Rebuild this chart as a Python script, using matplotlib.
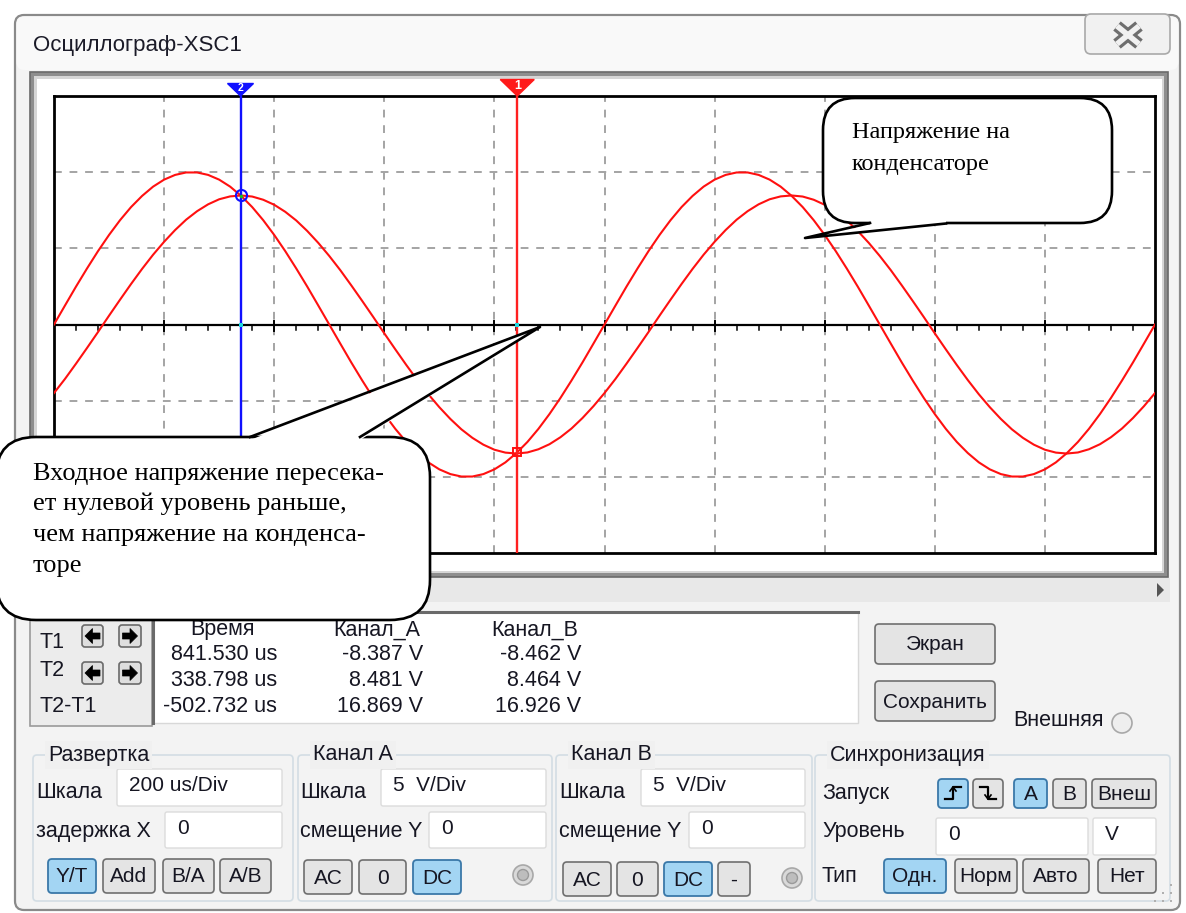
import matplotlib
matplotlib.use('Agg')
import matplotlib.pyplot as plt
from matplotlib.patches import FancyBboxPatch, Polygon, Circle, Rectangle

time_us = [0, 20, 40, 60, 80, 100, 120, 140, 160, 180, 200, 220, 240, 260, 280, 300,
           320, 340, 360, 380, 400, 420, 440, 460, 480, 500, 520, 540, 560, 580, 600,
           620, 640, 660, 680, 700, 720, 740, 760, 780, 800, 820, 840, 860, 880, 900,
           920, 940, 960, 980, 1000, 1020, 1040, 1060, 1080, 1100, 1120, 1140, 1160,
           1180, 1200, 1220, 1240, 1260, 1280, 1300, 1320, 1340, 1360, 1380, 1400,
           1420, 1440, 1460, 1480, 1500, 1520, 1540, 1560, 1580, 1600, 1620, 1640,
           1660, 1680, 1700, 1720, 1740, 1760, 1780, 1800, 1820, 1840, 1860, 1880,
           1900, 1920, 1940, 1960, 1980, 2000]
# channel A: input voltage, V
channel_a = [0.00, 1.25, 2.49, 3.68, 4.82, 5.88, 6.85, 7.71, 8.44, 9.05, 9.51, 9.82,
             9.98, 9.98, 9.82, 9.51, 9.05, 8.44, 7.71, 6.85, 5.88, 4.82, 3.68, 2.49,
             1.25, 0.00, -1.25, -2.49, -3.68, -4.82, -5.88, -6.85, -7.71, -8.44, -9.05,
             -9.51, -9.82, -9.98, -9.98, -9.82, -9.51, -9.05, -8.44, -7.71, -6.85,
             -5.88, -4.82, -3.68, -2.49, -1.25,
             0.00, 1.25, 2.49, 3.68, 4.82, 5.88, 6.85, 7.71, 8.44, 9.05, 9.51, 9.82,
             9.98, 9.98, 9.82, 9.51, 9.05, 8.44, 7.71, 6.85, 5.88, 4.82, 3.68, 2.49,
             1.25, 0.00, -1.25, -2.49, -3.68, -4.82, -5.88, -6.85, -7.71, -8.44, -9.05,
             -9.51, -9.82, -9.98, -9.98, -9.82, -9.51, -9.05, -8.44, -7.71, -6.85,
             -5.88, -4.82, -3.68, -2.49, -1.25, 0.00]
# channel B: capacitor voltage, V
channel_b = [-4.50, -3.57, -2.57, -1.54, -0.49, 0.58, 1.63, 2.66, 3.65, 4.58, 5.43,
             6.20, 6.88, 7.44, 7.89, 8.22, 8.41, 8.47, 8.40, 8.19, 7.86, 7.40, 6.83,
             6.14, 5.36, 4.50, 3.57, 2.57, 1.54, 0.49, -0.58, -1.63, -2.66, -3.65,
             -4.58, -5.43, -6.20, -6.88, -7.44, -7.89, -8.22, -8.41, -8.47, -8.40,
             -8.19, -7.86, -7.40, -6.83, -6.14, -5.36,
             -4.50, -3.57, -2.57, -1.54, -0.49, 0.58, 1.63, 2.66, 3.65, 4.58, 5.43,
             6.20, 6.88, 7.44, 7.89, 8.22, 8.41, 8.47, 8.40, 8.19, 7.86, 7.40, 6.83,
             6.14, 5.36, 4.50, 3.57, 2.57, 1.54, 0.49, -0.58, -1.63, -2.66, -3.65,
             -4.58, -5.43, -6.20, -6.88, -7.44, -7.89, -8.22, -8.41, -8.47, -8.40,
             -8.19, -7.86, -7.40, -6.83, -6.14, -5.36, -4.50]
cursor_time = [841.530, 338.798]          # T1, T2 (us)
cursor_a = [-8.387, 8.481]                # V
cursor_b = [-8.462, 8.464]                # V
readout_rows = ["T1", "T2", "T2-T1"]
readout_time = ["841.530 us", "338.798 us", "-502.732 us"]
readout_a = ["-8.387 V", "8.481 V", "16.869 V"]
readout_b = ["-8.462 V", "8.464 V", "16.926 V"]
time_per_div = 200      # us/div
volt_per_div = 5        # V/div
n_xdiv, n_ydiv = 10, 6

# ---------------- figure ----------------
W, H = 1186, 913
fig = plt.figure(figsize=(W / 100, H / 100), dpi=100)
fig.patch.set_facecolor('white')

ui = fig.add_axes([0, 0, 1, 1], zorder=0)
ui.set_xlim(0, W); ui.set_ylim(H, 0); ui.axis('off')

UIF = ['Liberation Sans', 'DejaVu Sans']
SERIF = ['Liberation Serif', 'DejaVu Serif']
TXT = '#161622'


def rbox(ax, x0, y0, x1, y1, fc='white', ec='none', lw=1.0, r=4, z=2):
    p = FancyBboxPatch((x0, y0), x1 - x0, y1 - y0,
                       boxstyle=f"round,pad=0,rounding_size={r}",
                       fc=fc, ec=ec, lw=lw, zorder=z)
    ax.add_patch(p)
    return p


def txt(ax, x, y, s, size=15.5, ha='left', va='center', color=TXT, z=6, **kw):
    ax.text(x, y, s, fontsize=size, ha=ha, va=va, color=color, family=UIF,
            zorder=z, **kw)


def button(x0, y0, x1, y1, label, sel=False, size=15):
    if sel:
        rbox(ui, x0, y0, x1, y1, fc='#a3d5f3', ec='#3a78a8', lw=1.3, r=4, z=3)
    else:
        rbox(ui, x0, y0, x1, y1, fc='#e4e4e4', ec='#6f6f6f', lw=1.2, r=4, z=3)
    if label:
        txt(ui, (x0 + x1) / 2, (y0 + y1) / 2 + 1, label, size=size, ha='center')


def textbox(x0, y0, x1, y1, s):
    rbox(ui, x0, y0, x1, y1, fc='white', ec='#dcdcdc', lw=1.0, r=2, z=3)
    txt(ui, x0 + 12, (y0 + y1) / 2 - 2, s, size=15)


def arrow_btn(x0, y0, x1, y1, direction):
    rbox(ui, x0, y0, x1, y1, fc='#dedede', ec='#6a6a6a', lw=1.2, r=3, z=3)
    cx, cy = (x0 + x1) / 2, (y0 + y1) / 2
    s = direction
    pts = [(cx + 7.5 * s, cy), (cx, cy - 7.5), (cx, cy - 3), (cx - 7.5 * s, cy - 3),
           (cx - 7.5 * s, cy + 3), (cx, cy + 3), (cx, cy + 7.5)]
    ui.add_patch(Polygon(pts, closed=True, fc='black', ec='black', lw=0.5, zorder=4))


def radio(cx, cy, r=10, dark=True):
    ui.add_patch(Circle((cx, cy), r, fc='#d9d9d9' if dark else '#eeeeee',
                        ec='#a8a8a8', lw=1.2, zorder=3))
    if dark:
        ui.add_patch(Circle((cx, cy), r * 0.55, fc='#bdbdbd', ec='#9a9a9a', lw=1.0, zorder=4))


def group(x0, y0, x1, y1, label):
    rbox(ui, x0, y0, x1, y1, fc='none', ec='#d3dde4', lw=1.2, r=4, z=2)
    ui.text(x0 + 15, y0, label, fontsize=15.5, ha='left', va='center', color=TXT,
            family=UIF, zorder=6,
            bbox=dict(boxstyle='square,pad=0.15', fc='#f0f0f0', ec='none'))


# window
rbox(ui, 15, 15, 1180, 910, fc='#f3f3f3', ec='#8a8a8a', lw=1.6, r=9, z=1)
rbox(ui, 16.5, 16.5, 1178.5, 70, fc='#f9f9f9', ec='none', r=8, z=1)
txt(ui, 33, 45, "Осциллограф-XSC1", size=16, color='#1b1b28')
# close button
rbox(ui, 1085, 14, 1170, 54, fc='#f1f1f1', ec='#a9a9a9', lw=1.2, r=6, z=2)
for lw_, col in ((8.5, '#6e6e6e'), (4.0, '#f1f1f1')):
    ui.plot([1117, 1139], [26, 44], color=col, lw=lw_, zorder=3, solid_capstyle='butt')
    ui.plot([1117, 1139], [44, 26], color=col, lw=lw_, zorder=3, solid_capstyle='butt')

# screen frame
ui.add_patch(Rectangle((30, 72), 1138, 505, fc='#8e8e8e', ec='#6a6a6a', lw=1.2, zorder=2))
ui.add_patch(Rectangle((34, 76), 1130, 497, fc='#d6d6d6', ec='none', zorder=2))
ui.add_patch(Rectangle((37, 79), 1125, 492, fc='white', ec='none', zorder=2))
# scroll strip
ui.add_patch(Rectangle((30, 578), 1140, 24, fc='#e8e8e8', ec='none', zorder=2))
ui.add_patch(Polygon([(1157, 583), (1157, 597), (1164, 590)], closed=True,
                     fc='#555555', ec='none', zorder=3))

# readout area
ui.add_patch(Rectangle((30, 606), 122, 120, fc='#ececec', ec='#9a9a9a', lw=1.2, zorder=2))
ui.add_patch(Rectangle((153, 612), 705, 111, fc='white', ec='#d8d8d8', lw=1.0, zorder=2))
ui.plot([153, 858], [612, 612], color='#6a6a6a', lw=2.2, zorder=3)
ui.plot([153, 153], [612, 723], color='#6a6a6a', lw=2.2, zorder=3)
for i, (lab, yy) in enumerate(zip(readout_rows, [642, 670, 707])):
    txt(ui, 40, yy, lab, size=15.5)
for yy in (625, 662):
    arrow_btn(82, yy, 103, yy + 22, -1)
    arrow_btn(119, yy, 141, yy + 22, 1)
txt(ui, 222, 630, "Время", ha='center')
txt(ui, 377, 630, "Канал_A", ha='center')
txt(ui, 535, 630, "Канал_B", ha='center')
for i, yy in enumerate([655, 681, 706]):
    txt(ui, 277, yy, readout_time[i], ha='right')
    txt(ui, 423, yy, readout_a[i], ha='right')
    txt(ui, 581, yy, readout_b[i], ha='right')

button(875, 624, 995, 664, "Экран")
button(875, 681, 995, 721, "Сохранить")
txt(ui, 1013, 721, "Внешняя", size=15.5)
radio(1122, 723, r=10, dark=False)

# group boxes
group(33, 755, 293, 901, "Развертка")
txt(ui, 36, 793, "Шкала"); textbox(117, 769, 282, 806, "200 us/Div")
txt(ui, 36, 832, "задержка X"); textbox(165, 812, 282, 848, "0")
button(48, 859, 96, 893, "Y/T", sel=True)
button(103, 859, 155, 893, "Add")
button(163, 859, 214, 893, "B/A")
button(220, 859, 271, 893, "A/B")

group(298, 755, 552, 901, "Канал A")
txt(ui, 300, 793, "Шкала"); textbox(381, 769, 546, 806, "5  V/Div")
txt(ui, 300, 832, "смещение Y"); textbox(429, 812, 546, 848, "0")
button(304, 860, 352, 894, "AC")
button(359, 860, 406, 894, "0")
button(413, 860, 461, 894, "DC", sel=True)
radio(523, 875)

group(556, 755, 812, 901, "Канал B")
txt(ui, 559, 793, "Шкала"); textbox(641, 769, 805, 806, "5  V/Div")
txt(ui, 559, 832, "смещение Y"); textbox(689, 812, 805, 848, "0")
button(563, 862, 611, 896, "AC")
button(617, 862, 658, 896, "0")
button(664, 862, 712, 896, "DC", sel=True)
button(718, 862, 750, 896, "-")
radio(792, 878)

group(815, 755, 1170, 901, "Синхронизация")
txt(ui, 822, 793, "Запуск")
button(938, 779, 968, 808, "", sel=True)
ui.plot([945, 953, 953, 961], [799, 799, 787, 787], color='black', lw=1.6, zorder=5)
ui.plot([950, 953, 956], [791, 787, 791], color='black', lw=1.2, zorder=5)
button(973, 779, 1003, 808, "")
ui.plot([980, 988, 988, 996], [787, 787, 799, 799], color='black', lw=1.6, zorder=5)
ui.plot([985, 988, 991], [795, 799, 795], color='black', lw=1.2, zorder=5)
button(1014, 779, 1047, 808, "A", sel=True)
button(1053, 779, 1086, 808, "B")
button(1092, 779, 1156, 808, "Внеш")
txt(ui, 822, 832, "Уровень")
textbox(936, 818, 1088, 855, "0")
textbox(1093, 818, 1156, 855, "V")
txt(ui, 822, 877, "Тип")
button(884, 859, 946, 893, "Одн.", sel=True)
button(955, 859, 1017, 893, "Норм")
button(1023, 859, 1089, 893, "Авто")
button(1098, 859, 1156, 893, "Нет")
for (gx, gy) in [(1170, 884), (1170, 892), (1162, 892), (1170, 900), (1162, 900), (1154, 900)]:
    ui.add_patch(Rectangle((gx, gy), 2, 2, fc='#b0b0b0', ec='none', zorder=3))

# ---------------- oscilloscope screen ----------------
x_max = time_per_div * n_xdiv
y_half = volt_per_div * n_ydiv / 2
sc = fig.add_axes([54 / W, 1 - 553 / H, 1101 / W, 457 / H], zorder=1)
sc.set_xlim(0, x_max); sc.set_ylim(-y_half, y_half)
sc.set_xticks([]); sc.set_yticks([])
sc.set_facecolor('white')
for sp in sc.spines.values():
    sp.set_color('black'); sp.set_linewidth(2.0)

for i in range(1, n_xdiv):
    sc.axvline(i * time_per_div, color='#a4a4a4', lw=1.4, ls=(0, (4, 4)), zorder=1)
for j in range(1, n_ydiv):
    yv = -y_half + j * volt_per_div
    if abs(yv) > 1e-9:
        sc.axhline(yv, color='#a4a4a4', lw=1.4, ls=(0, (4, 4)), zorder=1)
sc.axhline(0, color='black', lw=1.6, zorder=2)
for k in range(0, n_xdiv * 5 + 1):
    tk = k * time_per_div / 5
    if k % 5 == 0:
        sc.plot([tk, tk], [-0.45, 0.2], color='black', lw=1.4, zorder=2)
    else:
        sc.plot([tk, tk], [-0.35, 0.0], color='black', lw=1.1, zorder=2)

sc.plot(time_us, channel_a, color='#ff1010', lw=1.5, zorder=3)
sc.plot(time_us, channel_b, color='#ff1010', lw=1.5, zorder=3)

# cursors
sc.axvline(cursor_time[0], color='#ff2020', lw=1.7, zorder=4)
sc.axvline(cursor_time[1], color='#1010ff', lw=1.7, zorder=4)
us_px = time_per_div / 110.1
v_px = volt_per_div / 76.17
t1, t2 = cursor_time
sc.fill([t1 - 17 * us_px, t1 + 17 * us_px, t1], [y_half + 16.5 * v_px, y_half + 16.5 * v_px, y_half],
        color='#ff1a1a', clip_on=False, zorder=5)
sc.text(t1, y_half + 10 * v_px, "1", color='white', fontsize=9, fontweight='bold',
        ha='center', va='center', family=UIF, clip_on=False, zorder=6)
sc.fill([t2 - 13 * us_px, t2 + 13 * us_px, t2], [y_half + 12.5 * v_px, y_half + 12.5 * v_px, y_half],
        color='#1010ff', clip_on=False, zorder=5)
sc.text(t2, y_half + 8 * v_px, "2", color='white', fontsize=7.5, fontweight='bold',
        ha='center', va='center', family=UIF, clip_on=False, zorder=6)
sc.plot(t2, cursor_a[1], 'o', mfc='none', mec='#1010ff', ms=8, mew=1.5, zorder=6)
sc.plot(t2, cursor_b[1], '.', color='#20c020', ms=3, zorder=6)
sc.plot(t1, cursor_a[0], 's', mfc='none', mec='#ff1010', ms=6, mew=1.4, zorder=6)
sc.plot(cursor_time, [0, 0], 's', color='#20d8e0', ms=3, mew=0, zorder=6)

# ---------------- callouts ----------------
top = fig.add_axes([0, 0, 1, 1], zorder=3)
top.set_xlim(0, W); top.set_ylim(H, 0); top.axis('off')

rbox(top, 823, 98, 1112, 223, fc='white', ec='black', lw=1.9, r=32, z=2)
top.add_patch(Polygon([(870, 225), (805, 238), (946, 225), (946, 221), (870, 221)],
                      closed=True, fc='white', ec='none', zorder=3))
top.plot([870, 805, 946], [223, 238, 223.5], color='black', lw=1.9, zorder=4)
top.text(852, 138, "Напряжение на", fontsize=17.5, family=SERIF, color='black',
         ha='left', va='baseline', zorder=5)
top.text(852, 170, "конденсаторе", fontsize=17.5, family=SERIF, color='black',
         ha='left', va='baseline', zorder=5)

rbox(top, -4, 437, 430, 620, fc='white', ec='black', lw=1.9, r=40, z=2)
top.add_patch(Polygon([(250, 440), (540, 327), (360, 440)], closed=True,
                      fc='white', ec='none', zorder=3))
top.plot([250, 540, 360], [437, 327, 437], color='black', lw=1.9, zorder=4)
lines = ["Входное напряжение пересека-", "ет нулевой уровень раньше,",
         "чем напряжение на конденса-", "торе"]
for s, yb in zip(lines, [480, 510, 541, 572]):
    top.text(33, yb, s, fontsize=19, family=SERIF, color='black', ha='left',
             va='baseline', zorder=5)

fig.savefig('out.png', dpi=100, facecolor=fig.get_facecolor())
